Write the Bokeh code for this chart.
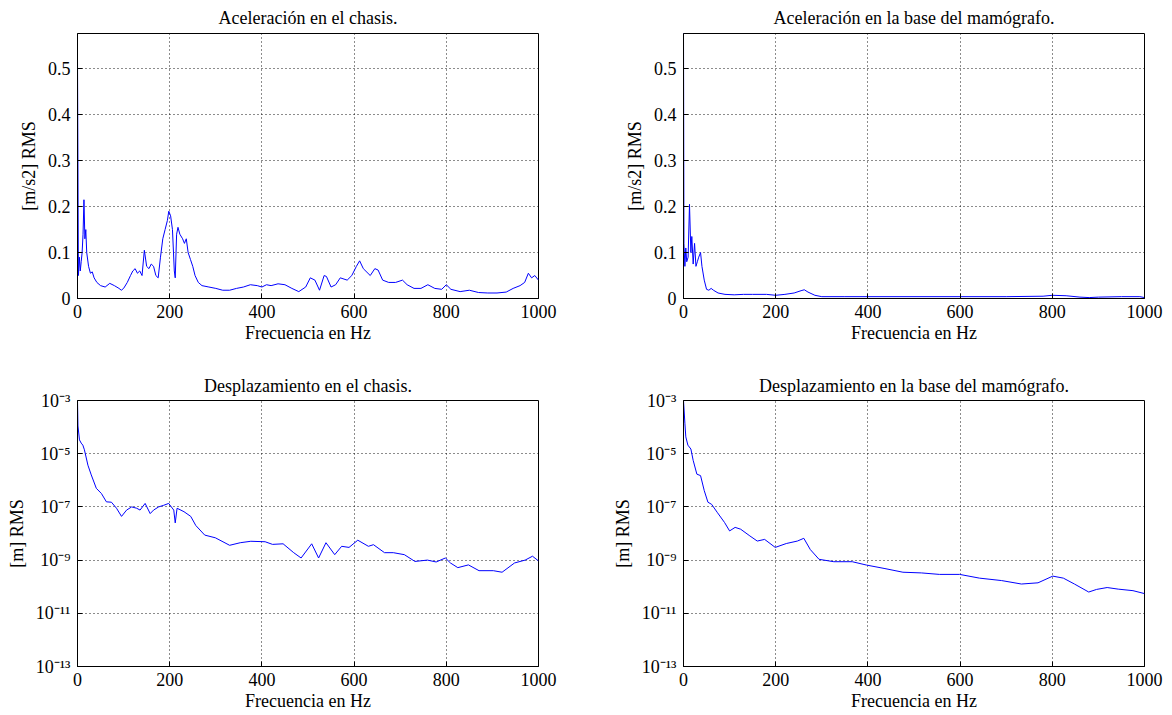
from bokeh.plotting import figure
from bokeh.layouts import column, row
from bokeh.models import Range1d, FixedTicker, CustomJSTickFormatter
from bokeh.embed import file_html
from bokeh.resources import INLINE

# ---------------- data ----------------
freq_ticks = [0, 200, 400, 600, 800, 1000]
acc_ticks = [0, 0.1, 0.2, 0.3, 0.4, 0.5]
disp_ticks = [1e-13, 1e-11, 1e-9, 1e-7, 1e-5, 1e-3]

titles = ["Aceleración en el chasis.", "Aceleración en la base del mamógrafo.",
          "Desplazamiento en el chasis.", "Desplazamiento en la base del mamógrafo."]
x_label = "Frecuencia en Hz"
acc_label = "[m/s2] RMS"
disp_label = "[m] RMS"

acc_chasis_f = [0, 2, 4, 6, 8, 10, 12, 14, 16, 18, 20, 24, 28, 32, 36, 42, 50, 60, 70, 80,
                90, 95, 100, 108, 115, 120, 125, 130, 135, 140, 145, 150, 155, 160, 165, 170,
                175, 180, 185, 190, 195, 198, 202, 206, 210, 212, 215, 218, 222, 228, 232, 236,
                240, 245, 250, 255, 262, 270, 285, 300, 315, 330, 345, 360, 375, 390, 400, 410,
                420, 435, 450, 465, 480, 495, 505, 515, 525, 535, 540, 550, 560, 570, 585, 595,
                605, 612, 620, 635, 645, 652, 662, 675, 690, 705, 715, 730, 745, 760, 775, 790,
                800, 810, 830, 850, 870, 890, 910, 930, 945, 960, 970, 978, 985, 992, 1000]
acc_chasis = [0.52, 0.05, 0.09, 0.06, 0.08, 0.10, 0.14, 0.215, 0.13, 0.15, 0.10, 0.07, 0.055,
              0.058, 0.045, 0.035, 0.028, 0.025, 0.033, 0.028, 0.022, 0.018, 0.022, 0.035, 0.05,
              0.06, 0.065, 0.055, 0.06, 0.05, 0.105, 0.07, 0.065, 0.075, 0.07, 0.05, 0.045, 0.09,
              0.13, 0.15, 0.17, 0.19, 0.18, 0.15, 0.06, 0.045, 0.14, 0.155, 0.14, 0.13, 0.12,
              0.13, 0.10, 0.085, 0.07, 0.05, 0.035, 0.028, 0.025, 0.022, 0.018, 0.018, 0.022,
              0.025, 0.03, 0.028, 0.025, 0.03, 0.028, 0.032, 0.03, 0.022, 0.015, 0.025, 0.045,
              0.04, 0.018, 0.05, 0.048, 0.025, 0.03, 0.045, 0.04, 0.05, 0.07, 0.082, 0.065,
              0.05, 0.065, 0.062, 0.04, 0.035, 0.035, 0.04, 0.03, 0.022, 0.022, 0.03, 0.022,
              0.02, 0.03, 0.02, 0.015, 0.018, 0.013, 0.012, 0.012, 0.014, 0.022, 0.028, 0.035,
              0.055, 0.045, 0.05, 0.04]

acc_base_f = [0, 1, 3, 5, 7, 10, 13, 16, 18, 21, 24, 27, 30, 33, 37, 40, 45, 50, 55, 60, 65,
              75, 90, 110, 130, 150, 180, 200, 220, 240, 255, 262, 270, 285, 300, 350, 400,
              500, 600, 700, 780, 800, 830, 860, 880, 900, 950, 990, 1000]
acc_base = [0.58, 0.12, 0.07, 0.11, 0.08, 0.09, 0.205, 0.10, 0.135, 0.075, 0.12, 0.07, 0.08,
            0.09, 0.10, 0.07, 0.04, 0.02, 0.018, 0.022, 0.018, 0.012, 0.009, 0.008, 0.009,
            0.009, 0.009, 0.007, 0.009, 0.012, 0.017, 0.019, 0.014, 0.007, 0.004, 0.004,
            0.004, 0.004, 0.004, 0.004, 0.005, 0.007, 0.006, 0.003, 0.002, 0.003, 0.004,
            0.004, 0.002]

disp_chasis_f = [0, 1, 4.3, 8, 11.6, 15, 22.6, 29.8, 40.8, 51.8, 62.7, 73.6, 84.6, 95.5, 106.5,
                 117.5, 128.4, 135.7, 146.7, 157.7, 165, 176, 187, 197.8, 208.8, 212, 216, 231,
                 245.6, 256.6, 276, 299, 330, 353, 376, 407, 423, 446, 469, 485, 508, 523, 539,
                 558, 573, 589, 608, 631, 642, 666, 685, 709, 732, 759, 778, 798, 809, 825, 848,
                 871, 902, 921, 948, 971, 987, 1000]
disp_chasis = [1.0e-3, 1.1e-4, 3.3e-5, 2.5e-5, 2.1e-5, 1.4e-5, 3.7e-6, 1.6e-6, 5.0e-7, 3.2e-7,
               1.55e-7, 1.5e-7, 8.9e-8, 4.4e-8, 7.6e-8, 1.0e-7, 8.9e-8, 7.6e-8, 1.35e-7, 5.6e-8,
               7.6e-8, 1.0e-7, 1.15e-7, 1.35e-7, 7.6e-8, 2.5e-8, 8.9e-8, 6.6e-8, 4.4e-8, 2.0e-8,
               8.7e-9, 6.9e-9, 3.6e-9, 4.5e-9, 5.1e-9, 4.9e-9, 3.9e-9, 4.1e-9, 1.9e-9, 1.2e-9,
               4.1e-9, 1.2e-9, 4.5e-9, 1.6e-9, 3.3e-9, 3.0e-9, 5.6e-9, 3.3e-9, 3.8e-9, 1.9e-9,
               1.9e-9, 1.6e-9, 8.9e-10, 1.0e-9, 8.5e-10, 1.2e-9, 7.8e-10, 5.2e-10, 6.6e-10,
               4.0e-10, 4.0e-10, 3.5e-10, 7.8e-10, 1.0e-9, 1.4e-9, 9.3e-10]

disp_base_f = [0, 3, 5, 9.5, 16, 21, 29, 37, 45, 53, 61, 73, 89, 100, 112, 124, 144, 160, 176,
               199, 223, 247, 261, 275, 294, 326, 366, 397, 437, 476, 516, 555, 599, 642, 690,
               733, 769, 801, 824, 848, 879, 896, 919, 943, 975, 1000]
disp_base = [1.0e-3, 1.4e-4, 4.3e-5, 2.1e-5, 1.5e-5, 5.6e-6, 1.7e-6, 1.5e-6, 4.1e-7, 1.5e-7,
             1.25e-7, 6.3e-8, 2.6e-8, 1.25e-8, 1.7e-8, 1.45e-8, 8.1e-9, 5.2e-9, 6.0e-9, 3.0e-9,
             4.2e-9, 5.2e-9, 6.6e-9, 2.5e-9, 1.07e-9, 8.7e-10, 8.7e-10, 6.5e-10, 4.8e-10,
             3.5e-10, 3.3e-10, 2.9e-10, 2.9e-10, 2.1e-10, 1.7e-10, 1.26e-10, 1.4e-10, 2.5e-10,
             2.1e-10, 1.26e-10, 6.3e-11, 7.9e-11, 9.3e-11, 8.1e-11, 7.1e-11, 5.5e-11]

# ---------------- styling ----------------
FONT = "Liberation Serif"
FS = "18px"
LINE = "#0000ff"

lin_fmt = CustomJSTickFormatter(code="return (Math.round(tick*10)/10).toString();")
log_fmt = CustomJSTickFormatter(code="""
const sup = {'-':'\u207b','0':'\u2070','1':'\u00b9','2':'\u00b2','3':'\u00b3','4':'\u2074',
             '5':'\u2075','6':'\u2076','7':'\u2077','8':'\u2078','9':'\u2079'};
const e = Math.round(Math.log10(tick)).toString();
let s = '';
for (const c of e) { s += sup[c]; }
return '10' + s;
""")


def make(title, ylabel, xs, ys, log, left, right, top, bottom, fh, tstand):
    kw = dict(y_axis_type="log") if log else {}
    yr = Range1d(1e-13, 1e-3) if log else Range1d(0, 0.577)
    p = figure(frame_width=461, frame_height=fh, min_border_left=left,
               min_border_right=right, min_border_top=top, min_border_bottom=bottom,
               x_range=Range1d(0, 1000), y_range=yr, output_backend="svg",
               toolbar_location=None, background_fill_color="white",
               border_fill_color="white", **kw)
    p.line(xs, ys, line_color=LINE, line_width=1)

    p.title.text = title
    p.title.text_font = FONT
    p.title.text_font_size = FS
    p.title.text_font_style = "normal"
    p.title.text_color = "black"
    p.title.align = "center"
    p.title.standoff = tstand

    p.outline_line_color = "black"
    p.outline_line_width = 1

    yt = FixedTicker(ticks=disp_ticks if log else acc_ticks, minor_ticks=[])
    xt = FixedTicker(ticks=freq_ticks, minor_ticks=[])

    for ax in p.xaxis:
        ax.ticker = xt
        ax.axis_label = x_label
        ax.major_label_standoff = 6
        ax.axis_label_standoff = 2
    for ax in p.yaxis:
        ax.ticker = yt
        ax.formatter = log_fmt if log else lin_fmt
        ax.axis_label = ylabel
        ax.major_label_standoff = 7
        ax.axis_label_standoff = 6
    for ax in list(p.xaxis) + list(p.yaxis):
        ax.major_label_text_font = FONT
        ax.major_label_text_font_size = FS
        ax.major_label_text_color = "black"
        ax.axis_label_text_font = FONT
        ax.axis_label_text_font_size = FS
        ax.axis_label_text_font_style = "normal"
        ax.axis_label_text_color = "black"
        ax.major_tick_in = 5
        ax.major_tick_out = 0
        ax.minor_tick_line_color = None
        ax.axis_line_color = "black"
        ax.major_tick_line_color = "black"

    for g in (p.xgrid, p.ygrid):
        g.grid_line_color = "black"
        g.grid_line_dash = "1 3"
        g.grid_line_width = 1
        g.grid_line_alpha = 0.9
    p.xgrid.ticker = xt
    p.ygrid.ticker = yt
    return p


p1 = make(titles[0], acc_label, acc_chasis_f, acc_chasis, False, 77, 62, 33, 62, 265, 11)
p2 = make(titles[1], acc_label, acc_base_f, acc_base, False, 83, 24, 33, 62, 265, 11)
p3 = make(titles[2], disp_label, disp_chasis_f, disp_chasis, True, 77, 62, 40, 48, 266, 10)
p4 = make(titles[3], disp_label, disp_base_f, disp_base, True, 83, 24, 40, 48, 266, 10)

layout = column(row(p1, p2, spacing=0), row(p3, p4, spacing=0), spacing=0)

open("out.html", "w").write(file_html(layout, INLINE))
